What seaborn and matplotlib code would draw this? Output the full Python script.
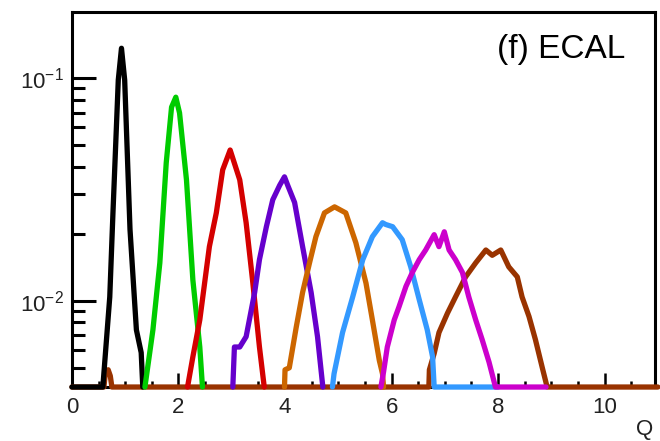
import numpy as np
import pandas as pd
import matplotlib
matplotlib.use("Agg")
import matplotlib.pyplot as plt
import seaborn as sns
from matplotlib import font_manager
from matplotlib.ticker import LogLocator, MultipleLocator, NullFormatter

YMIN = 0.0041
YMAX = 0.198

# charge histograms (x = Q, y = fraction); 0 means empty bin
q1_x = [0.0, 0.58, 0.71, 0.77, 0.87, 0.93, 0.99, 1.09, 1.21, 1.30, 1.33]
q1_y = [0, 0, 0.0104, 0.0248, 0.098, 0.136, 0.098, 0.0209, 0.0074, 0.00585, 0]
q2_x = [1.37, 1.52, 1.65, 1.77, 1.87, 1.95, 2.02, 2.15, 2.27, 2.40, 2.45]
q2_y = [0, 0.0074, 0.0148, 0.0416, 0.074, 0.082, 0.0697, 0.0349, 0.0124, 0.0062, 0]
q3_x = [2.17, 2.27, 2.40, 2.58, 2.71, 2.83, 2.97, 3.15, 3.27, 3.39, 3.52, 3.61]
q3_y = [0, 0.0056, 0.0082, 0.0175, 0.0248, 0.0387, 0.0475, 0.0349, 0.0224, 0.0124, 0.0062, 0]
q4_x = [3.02, 3.05, 3.15, 3.27, 3.43, 3.52, 3.65, 3.77, 3.90, 3.99, 4.05, 4.18, 4.33, 4.49, 4.61, 4.71]
q4_y = [0, 0.0062, 0.0062, 0.0069, 0.0109, 0.0153, 0.0215, 0.0284, 0.033, 0.036, 0.033, 0.0276, 0.0175, 0.0109, 0.0069, 0]
q5_x = [3.99, 4.00, 4.08, 4.21, 4.33, 4.46, 4.58, 4.74, 4.93, 5.14, 5.33, 5.52, 5.64, 5.77, 5.83, 5.85]
q5_y = [0, 0.0049, 0.005, 0.0076, 0.0109, 0.0148, 0.0194, 0.0248, 0.0264, 0.0248, 0.0182, 0.012, 0.0082, 0.0054, 0.0047, 0]
q6_x = [4.89, 4.92, 5.08, 5.27, 5.46, 5.64, 5.83, 5.89, 6.02, 6.20, 6.36, 6.52, 6.67, 6.77, 6.80, 8.00]
q6_y = [0, 0.0047, 0.0072, 0.0104, 0.0153, 0.0194, 0.0224, 0.022, 0.0215, 0.0188, 0.0142, 0.0101, 0.0074, 0.0056, 0, 0]
q7_x = [5.80, 5.85, 5.92, 6.05, 6.14, 6.27, 6.39, 6.52, 6.64, 6.80, 6.89, 6.99, 7.08, 7.20, 7.33, 7.45, 7.58, 7.70, 7.83, 7.95, 8.90]
q7_y = [0, 0.0048, 0.0062, 0.0082, 0.0094, 0.0116, 0.0134, 0.0153, 0.0169, 0.0198, 0.0175, 0.0204, 0.0169, 0.0153, 0.0134, 0.0104, 0.0082, 0.0067, 0.0053, 0, 0]
q8_x = [0.0, 0.60, 0.63, 0.68, 0.72, 0.75, 6.70, 6.71, 6.80, 6.89, 7.05, 7.20, 7.39, 7.58, 7.77, 7.89, 8.05, 8.20, 8.36, 8.45, 8.58, 8.70, 8.83, 8.92, 11.0]
q8_y = [0, 0, 0.0048, 0.0049, 0.0046, 0, 0, 0.0049, 0.0058, 0.0072, 0.0088, 0.0104, 0.0128, 0.0148, 0.0169, 0.016, 0.0169, 0.0142, 0.0128, 0.0104, 0.0085, 0.0067, 0.005, 0, 0]

series_x = [q1_x, q2_x, q3_x, q4_x, q5_x, q6_x, q7_x, q8_x]
series_y = [q1_y, q2_y, q3_y, q4_y, q5_y, q6_y, q7_y, q8_y]
series_names = ["Q=1", "Q=2", "Q=3", "Q=4", "Q=5", "Q=6", "Q=7", "Q=8"]
colors = ["#000000", "#00cc00", "#d40000", "#6600cc", "#cc6600", "#3399ff", "#cc00cc", "#993300"]

x_ticks = [0, 2, 4, 6, 8, 10]
panel_label = "(f) ECAL"
x_label = "Q"

sns.set_theme(style="white")
avail = {f.name for f in font_manager.fontManager.ttflist}
fam = "Liberation Sans Narrow" if "Liberation Sans Narrow" in avail else "Liberation Sans"
plt.rcParams["font.family"] = [fam, "DejaVu Sans"]
plt.rcParams["mathtext.fontset"] = "custom"
plt.rcParams["mathtext.rm"] = fam
plt.rcParams["mathtext.it"] = fam

frames = []
for name, xs, ys in zip(series_names, series_x, series_y):
    ys_c = [max(v, YMIN) for v in ys]
    frames.append(pd.DataFrame({"Q": xs, "frac": ys_c, "series": name}))
df = pd.concat(frames, ignore_index=True)

fig = plt.figure(figsize=(6.6, 4.41), dpi=100)
ax = fig.add_axes([0.109, 0.1224, 0.883, 0.8506])

# brown drawn first, then the others on top
order = [7, 0, 1, 2, 3, 4, 5, 6]
for i in order:
    sub = df[df["series"] == series_names[i]]
    sns.lineplot(data=sub, x="Q", y="frac", ax=ax, color=colors[i], linewidth=3.8,
                 sort=False, estimator=None, legend=False, clip_on=False, zorder=3)

ax.set_yscale("log")
ax.set_xlim(0, 10.94)
ax.set_ylim(YMIN, YMAX)
ax.set_xticks(x_ticks)
ax.set_xticklabels([str(t) for t in x_ticks])
ax.xaxis.set_minor_locator(MultipleLocator(0.5))
ax.yaxis.set_major_locator(LogLocator(base=10, numticks=10))
ax.yaxis.set_minor_locator(LogLocator(base=10, subs=np.arange(2, 10), numticks=20))
ax.yaxis.set_minor_formatter(NullFormatter())

ax.tick_params(axis="both", which="both", direction="in", top=False, right=False,
               bottom=True, left=True, colors="black", labelsize=16)
ax.tick_params(axis="x", which="major", length=10, width=1.8, pad=7)
ax.tick_params(axis="x", which="minor", length=4, width=1.8)
ax.tick_params(axis="y", which="major", length=17, width=2.2, pad=6)
ax.tick_params(axis="y", which="minor", length=9, width=2.2)
for lab in ax.get_xticklabels() + ax.get_yticklabels():
    lab.set_color("#222222")

for s in ax.spines.values():
    s.set_visible(True)
    s.set_color("black")
    s.set_linewidth(2.2)
    s.set_zorder(2)

ax.set_xlabel(x_label, fontsize=16, color="#222222")
ax.xaxis.set_label_coords(0.982, -0.112)
ax.xaxis.label.set_verticalalignment("center")
ax.xaxis.label.set_horizontalalignment("center")
ax.set_ylabel("")
ax.text(0.95, 0.877, panel_label, transform=ax.transAxes, ha="right", va="baseline",
        fontsize=24, color="black")

fig.savefig("out.png", dpi=100)
